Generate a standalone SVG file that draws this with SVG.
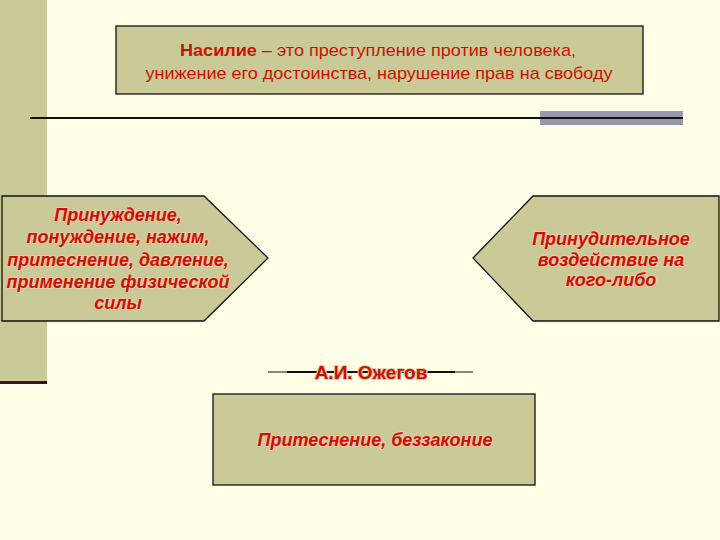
<svg xmlns="http://www.w3.org/2000/svg" width="720" height="540" viewBox="0 0 720 540">
<style>
.box{fill:#CACA98;stroke:#111;stroke-width:1.3}
.t{font-family:"Liberation Sans",Arial,sans-serif;fill:#CC1100;text-anchor:middle}
.bi{font-weight:bold;font-style:italic;font-size:18px}
.halo{stroke:#E6C9A8;stroke-width:2.2;paint-order:stroke;stroke-linejoin:round}
</style>
<rect width="720" height="540" fill="#FFFFE8"/>
<rect x="0" y="0" width="47" height="382" fill="#CACA98"/>
<rect x="0" y="381" width="47" height="3" fill="#3A1030"/>
<g id="top">
<rect class="box" x="116" y="26" width="527" height="68"/>
<text class="t" x="378" y="56" font-size="17" textLength="396" lengthAdjust="spacingAndGlyphs"><tspan font-weight="bold">Насилие</tspan> – это преступление против человека,</text>
<text class="t" x="379" y="79" font-size="17" textLength="467" lengthAdjust="spacingAndGlyphs">унижение его достоинства, нарушение прав на свободу</text>
</g>
<g id="divider">
<rect x="540" y="111" width="143" height="14" fill="#9A9AAA"/>
<line x1="30" y1="118" x2="683" y2="118" stroke="#111" stroke-width="2"/>
</g>
<g id="left">
<polygon class="box" points="2,196 204,196 268,258 204,321 2,321"/>
<text class="t bi halo"><tspan x="118" y="221">Принуждение,</tspan><tspan x="118" y="243">понуждение, нажим,</tspan><tspan x="118" y="266">притеснение, давление,</tspan><tspan x="118" y="288">применение физической</tspan><tspan x="118" y="309">силы</tspan></text>
</g>
<g id="right">
<polygon class="box" points="533,196 719,196 719,321 533,321 473,258"/>
<text class="t bi halo"><tspan x="611" y="245">Принудительное</tspan><tspan x="611" y="266">воздействие на</tspan><tspan x="611" y="286">кого-либо</tspan></text>
</g>
<g id="author">
<line x1="268" y1="372" x2="473" y2="372" stroke="#111" stroke-width="1"/>
<line x1="287" y1="372" x2="455" y2="372" stroke="#111" stroke-width="2"/>
<text class="t halo" x="371" y="379" font-size="19" font-weight="bold">А.И. Ожегов</text>
</g>
<g id="bottom">
<rect class="box" x="213" y="394" width="322" height="91"/>
<text class="t bi halo" x="375" y="446">Притеснение, беззаконие</text>
</g>
</svg>
